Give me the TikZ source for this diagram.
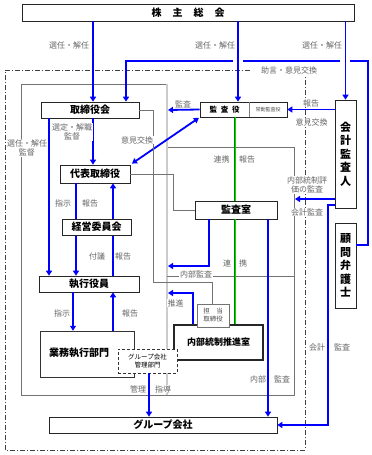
\documentclass[tikz,border=0pt]{standalone}
\usepackage{fontspec}
\setmainfont{Noto Sans CJK JP}
\usetikzlibrary{arrows.meta,shadows,calc}
\begin{document}
\begin{tikzpicture}[x=1pt,y=-1pt,
 box/.style={draw=black!85, line width=0.6pt, fill=white, inner sep=0pt,
   font=\fontsize{10}{12}\selectfont\bfseries,
   drop shadow={shadow xshift=1.4pt, shadow yshift=-1.4pt, fill=black!60, opacity=1}},
 lbl/.style={font=\fontsize{8}{9.5}\selectfont, text=black!60, inner sep=0.6pt, fill=white, align=center},
 barrow/.style={draw=blue, line width=1.8pt, -{Triangle[length=5pt,width=6pt]}},
 bline/.style={draw=blue, line width=1.8pt},
 gline/.style={draw=black!55, line width=0.6pt},
 grn/.style={draw=green!50!black, double=green!85!black, double distance=0.9pt, line width=0.7pt},
]
\fill[white] (0,0) rectangle (372,455);
\useasboundingbox (0,0) rectangle (372,455);

% frames
\draw[gline] (166,84) -- (21,84) -- (21,395) -- (294,395) -- (294,147) -- (167,147);
\draw[black!20, line width=1.6pt] (167,84) -- (167,395);
\draw[gline] (167,276) -- (294,276);
\draw[black!75, line width=0.7pt, dash pattern=on 5pt off 2pt on 1pt off 2pt]
  (250,70) -- (5,70) -- (5,450) -- (305,450) -- (305,76);

% boxes
\node[box, minimum width=332pt, minimum height=17pt] (kabu) at (188,12.5)
  {株\hspace{1.1em}主\hspace{1.1em}総\hspace{1.1em}会};
\node[box, minimum width=98pt, minimum height=16pt] (tori) at (90,110) {取締役会};
\node[box, minimum width=87pt, minimum height=15pt] (kansa) at (243.5,109.5) {};
\node[box, minimum width=21pt, minimum height=108pt, align=center,
  font=\fontsize{11}{13.5}\selectfont\bfseries] (kaikei) at (345.5,154) {会\\計\\監\\査\\人};
\node[box, minimum width=21pt, minimum height=85pt, align=center,
  font=\fontsize{11}{13.5}\selectfont\bfseries] (komon) at (345.5,265.5) {顧\\問\\弁\\護\\士};
\node[box, minimum width=70pt, minimum height=18pt] (daihyo) at (95,174) {代表取締役};
\node[box, minimum width=100pt, minimum height=16pt] (shikko) at (89,284) {執行役員};
\node[draw=black!80, line width=0.5pt, fill=white, minimum width=94pt, minimum height=46pt, inner sep=0pt]
  (gyomu) at (87,354) {};
\node[box, minimum width=228pt, minimum height=16pt] (group) at (163,425) {グループ会社};
\node[box, minimum width=82pt, minimum height=18pt] (kansashitsu) at (236,210) {監査室};
\node[box, line width=1.1pt, minimum width=89pt, minimum height=35pt,
  font=\fontsize{9}{11}\selectfont\bfseries] (naibu) at (218.5,342.5) {内部統制推進室};

% blue arrows
\draw[barrow] (kabu.south -| 93,0) -- (tori.north -| 93,0);
\draw[barrow] (kabu.south -| 238,0) -- (kansa.north -| 238,0);
\draw[barrow] (kabu.south -| kaikei.north) -- (kaikei.north);
\draw[bline] (komon.east |- 0,245) -- (368,245) -- (368,61) -- (350,61);
\draw[bline] (340,61) -- (243,61);
\draw[barrow] (233,61) -- (126,61) -- (tori.north -| 126,0);
\coordinate (kansaend) at (168,110);
\draw[barrow] (kansa.west) -- (kansaend);
\draw[blue, line width=1.8pt, {Triangle[length=5pt,width=6pt]}-{Triangle[length=5pt,width=6pt]},
  shorten <=1pt, shorten >=2pt] (kansa.south west) -- (daihyo.north east);
\draw[barrow] (tori.south -| 93,0) -- (daihyo.north -| 93,0);
\draw[barrow] (tori.south -| 49,0) -- (shikko.north -| 49,0);
\draw[barrow] (daihyo.south -| 76,0) -- (shikko.north -| 76,0);
\draw[barrow] (shikko.north -| 113,0) -- (daihyo.south -| 113,0);
\draw[barrow] (shikko.south -| 73,0) -- (gyomu.north -| 73,0);
\draw[barrow] (gyomu.north -| 113,0) -- (shikko.south -| 113,0);
\coordinate (naend) at (168,266);
\draw[barrow] (kansashitsu.south -| 209,0) -- (209,266) -- (naend);
\draw[barrow] (kansashitsu.south -| 268,0) -- (group.north -| 268,0);
\coordinate (suishinend) at (168,293);
\draw[barrow] (naibu.north -| 193,0) -- (193,293) -- (suishinend);
\draw[barrow] (kaikei.west |- kansa.east) -- (kansa.east);
\coordinate (hyokaend) at (295,199);
\draw[barrow] (kaikei.west |- 0,199) -- (hyokaend);
\draw[barrow] (kaikei.west |- 0,205) -- (328,205) -- (328,425) -- (group.east);

% gray connectors
\draw[gline] (tori.east) -- (153,110) -- (153,282) -- (212,282) -- (212,304);
\draw[gline] (daihyo.east) -- (173,174) -- (173,210) -- (kansashitsu.west);

% green double lines
\draw[grn] (kansa.south -| 235,0) -- (kansashitsu.north -| 235,0);
\draw[grn] (kansashitsu.south -| 235,0) -- (naibu.north -| 235,0);

% boxes drawn over lines
\node[box, minimum width=69pt, minimum height=16pt] (keiei) at (96.5,227) {経営委員会};
\node[draw=black!55, line width=0.5pt, fill=white, minimum width=32pt, minimum height=23pt, inner sep=0pt,
  align=center, font=\fontsize{6.5}{8}\selectfont, text=black!70] (tanto) at (213,315.5)
  {担\hspace{1em}当\\取締役};
\node[draw=black!80, line width=0.6pt, dash pattern=on 3pt off 2pt, fill=white, minimum width=59pt,
  minimum height=24pt, inner sep=0pt, align=center, font=\fontsize{6.5}{8}\selectfont] (gmgmt)
  at (147.5,361) {グループ会社\\管理部門};
\draw[barrow] (gmgmt.south -| 149,0) -- (group.north -| 149,0);

% texts inside
\node[font=\fontsize{10}{12}\selectfont\bfseries, inner sep=0pt] (gyomut) at (79,353) {業務執行部門};
\draw[black!50, line width=0.4pt] ($(kansa.north west)+(49,0.4)$) -- ($(kansa.south west)+(49,-0.4)$);
\node[font=\fontsize{7.5}{9}\selectfont\bfseries, inner sep=0pt] (kansat) at (224.5,109.5)
  {監\hspace{0.5em}査\hspace{0.5em}役};
\node[font=\fontsize{5}{6}\selectfont, text=black!70, inner sep=0pt] (jokin) at (268,109.5) {常勤監査役};

% labels
\node[lbl] (l1) at (69,45) {選任・解任};
\node[lbl] (l2) at (215,45) {選任・解任};
\node[lbl] (l3) at (322,45) {選任・解任};
\node[lbl] (l4) at (289,70) {助言・意見交換};
\node[lbl] (l5) at (183,104) {監査};
\node[lbl] (l6) at (311,103) {報告};
\node[lbl] (l7) at (311.5,122) {意見交換};
\node[lbl] (l8) at (137,140) {意見交換};
\node[lbl] (l9) at (72,132) {選定・解職\\監督};
\node[lbl] (l10) at (27,148) {選任・解任\\監督};
\node[lbl] (l11) at (221.5,159) {連携};
\node[lbl] (l12) at (247,159) {報告};
\node[lbl] (l13) at (307,185) {内部統制評\\価の監査};
\node[lbl] (l14) at (307,212) {会計監査};
\node[lbl] (l15) at (63,203) {指示};
\node[lbl] (l16) at (90,203) {報告};
\node[lbl] (l17) at (97,256) {付議};
\node[lbl] (l18) at (123,256) {報告};
\node[lbl] (l19) at (227,263) {連};
\node[lbl] (l20) at (243,263) {携};
\node[lbl] (l21) at (196,274) {内部監査};
\node[lbl] (l22) at (175.5,303) {推進};
\node[lbl] (l23) at (62,313) {指示};
\node[lbl] (l24) at (130,313) {報告};
\node[lbl] (l25) at (317,347) {会計};
\node[lbl] (l26) at (342,347) {監査};
\node[lbl] (l27) at (258,379) {内部};
\node[lbl] (l28) at (282,379) {監査};
\node[lbl] (l29) at (138,389) {管理};
\node[lbl] (l30) at (163,389) {指導};
\end{tikzpicture}
\end{document}
